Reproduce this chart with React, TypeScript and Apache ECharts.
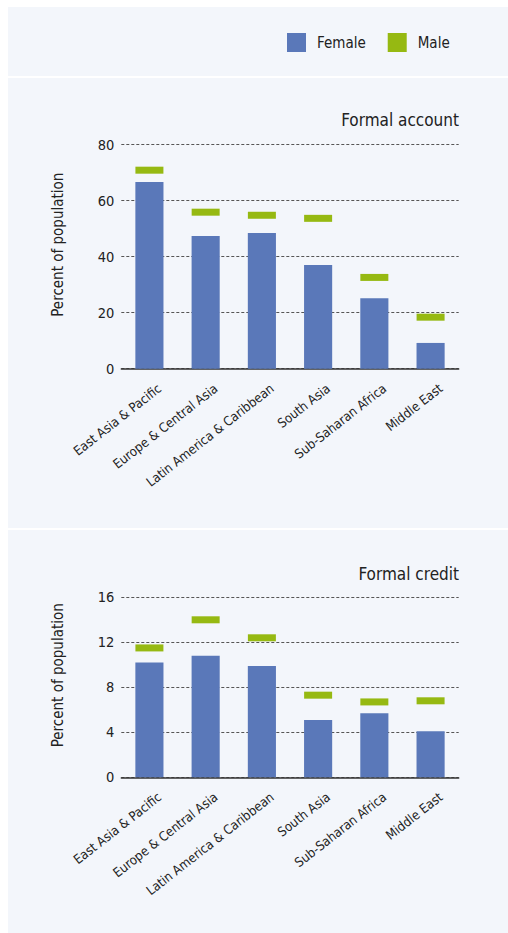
import React, { useEffect, useRef } from "react";
import * as echarts from "echarts";

const regions = [
  "East Asia & Pacific",
  "Europe & Central Asia",
  "Latin America & Caribbean",
  "South Asia",
  "Sub-Saharan Africa",
  "Middle East",
];
const accountFemale = [66.7, 47.4, 48.5, 37.0, 25.2, 9.2];
const accountMale = [70.9, 55.9, 54.8, 53.7, 32.6, 18.4];
const creditFemale = [10.2, 10.8, 9.9, 5.1, 5.7, 4.1];
const creditMale = [11.5, 14.0, 12.4, 7.3, 6.7, 6.8];
const titles = ["Formal account", "Formal credit"];
const yName = "Percent of population";

const FONT = "'DejaVu Sans Condensed', 'Liberation Sans Narrow', sans-serif";
const BLUE = "#5a78b9";
const GREEN = "#96b912";
const PANEL = "#f3f6fb";
const TEXT = "#222";

export default function App() {
  const ref = useRef<HTMLDivElement>(null);
  useEffect(() => {
    if (!ref.current) return;
    const chart = echarts.init(ref.current, undefined, { renderer: "svg" });
    const xAxisCommon = (gridIndex: number) => ({
      type: "category",
      gridIndex,
      data: regions,
      axisLine: { show: true, lineStyle: { color: "#333", width: 1.5 } },
      axisTick: { show: false },
      axisLabel: {
        rotate: 38,
        margin: 26,
        fontFamily: FONT,
        fontSize: 13,
        color: TEXT,
        interval: 0,
        padding: [0, -13, 0, 0],
      },
    });
    const yAxisCommon = (gridIndex: number, max: number, interval: number) => ({
      type: "value",
      gridIndex,
      min: 0,
      max,
      interval,
      name: yName,
      nameLocation: "middle",
      nameGap: 56,
      nameRotate: 90,
      nameTextStyle: { fontFamily: FONT, fontSize: 15, color: TEXT, padding: [0, 0, 0, 24] },
      axisLine: { show: false },
      axisTick: { show: false },
      axisLabel: { fontFamily: FONT, fontSize: 14.5, color: TEXT, margin: 7 },
      splitLine: { show: true, lineStyle: { color: "#555", width: 1, type: [3, 2] } },
    });
    chart.setOption({
      animation: false,
      backgroundColor: "#ffffff",
      graphic: [
        { type: "rect", z: -10, silent: true, shape: { x: 8, y: 7, width: 500, height: 69 }, style: { fill: PANEL } },
        { type: "rect", z: -10, silent: true, shape: { x: 8, y: 78, width: 500, height: 450 }, style: { fill: PANEL } },
        { type: "rect", z: -10, silent: true, shape: { x: 8, y: 530, width: 500, height: 403 }, style: { fill: PANEL } },
      ],
      title: [
        {
          text: titles[0],
          right: 49,
          top: 111,
          padding: 0,
          textStyle: { fontFamily: FONT, fontSize: 17, fontWeight: "normal", color: TEXT },
        },
        {
          text: titles[1],
          right: 49,
          top: 565,
          padding: 0,
          textStyle: { fontFamily: FONT, fontSize: 17, fontWeight: "normal", color: TEXT },
        },
      ],
      legend: {
        left: 287,
        top: 33,
        itemWidth: 19,
        itemHeight: 19,
        itemGap: 22,
        icon: "rect",
        padding: 0,
        data: ["Female", "Male"],
        textStyle: { fontFamily: FONT, fontSize: 15, color: TEXT, padding: [0, 0, 0, 6] },
      },
      grid: [
        { left: 121.3, right: 49.3, top: 144.7, height: 224, containLabel: false },
        { left: 121.3, right: 49.3, top: 597.3, height: 180, containLabel: false },
      ],
      xAxis: [xAxisCommon(0), xAxisCommon(1)],
      yAxis: [yAxisCommon(0, 80, 20), yAxisCommon(1, 16, 4)],
      series: [
        {
          name: "Female",
          type: "bar",
          xAxisIndex: 0,
          yAxisIndex: 0,
          barWidth: "50%",
          itemStyle: { color: BLUE },
          data: accountFemale,
        },
        {
          name: "Male",
          type: "scatter",
          xAxisIndex: 0,
          yAxisIndex: 0,
          symbol: "rect",
          symbolSize: [28, 7],
          itemStyle: { color: GREEN, opacity: 1 },
          data: accountMale,
          z: 3,
        },
        {
          name: "Female",
          type: "bar",
          xAxisIndex: 1,
          yAxisIndex: 1,
          barWidth: "50%",
          itemStyle: { color: BLUE },
          data: creditFemale,
        },
        {
          name: "Male",
          type: "scatter",
          xAxisIndex: 1,
          yAxisIndex: 1,
          symbol: "rect",
          symbolSize: [28, 7],
          itemStyle: { color: GREEN, opacity: 1 },
          data: creditMale,
          z: 3,
        },
      ],
    });
    return () => chart.dispose();
  }, []);
  return (
    <div
      ref={ref}
      style={{ position: "absolute", left: 0, top: 0, width: 508, height: 933 }}
    />
  );
}
